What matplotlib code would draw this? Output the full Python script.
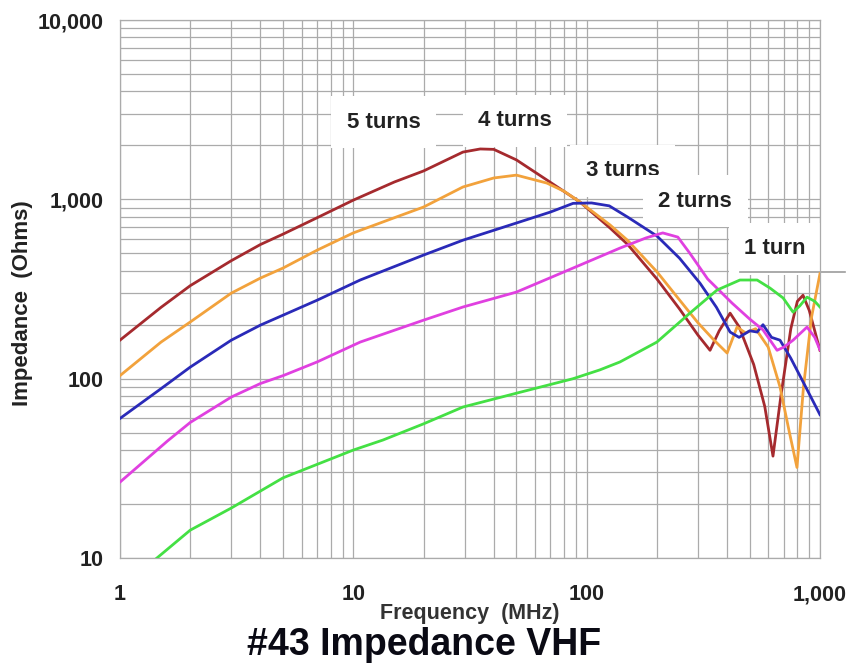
"""#43 ferrite impedance vs frequency (VHF), 1 to 5 turns."""
import matplotlib
matplotlib.use("Agg")
import matplotlib.pyplot as plt
from matplotlib.ticker import FixedLocator, LogLocator, NullFormatter

plt.rcParams["font.family"] = ["Liberation Sans", "DejaVu Sans"]

# frequency (MHz) / impedance (ohms)
f5 = [1, 1.5, 2, 3, 4, 5, 7, 10, 15, 20, 29.5, 35, 40, 50, 67.5, 93.6, 126, 150,
      200, 250, 300, 338, 370, 412, 450, 520, 580, 629, 680, 750, 800, 846, 900, 1000]
z5 = [164, 250, 330, 455, 560, 640, 790, 990, 1250, 1440, 1835, 1910, 1900, 1660,
      1283, 967, 692, 560, 360, 245, 175, 144, 185, 232, 195, 120, 70, 37, 80, 190,
      270, 292, 240, 144]

f4 = [1, 1.5, 2, 3, 4, 5, 7, 10, 15, 20, 29.5, 40, 50, 67.5, 80, 93.6, 126, 150,
      200, 250, 300, 350, 400, 441, 480, 530, 600, 674, 740, 797, 850, 920, 1000]
z4 = [104, 160, 207, 300, 364, 414, 521, 650, 790, 906, 1172, 1316, 1365, 1233,
      1110, 967, 720, 590, 395, 275, 205, 165, 139, 194, 180, 190, 150, 90, 50, 32,
      90, 220, 385]

f3 = [1, 1.5, 2, 3, 4, 5, 7, 10.7, 20, 29.5, 50, 70, 87.5, 105, 125, 150, 200, 250,
      306, 360, 412, 450, 500, 538, 570, 620, 674, 750, 850, 1000]
z3 = [60, 88, 116, 164, 199, 226, 274, 355, 489, 592, 738, 850, 950, 955, 920, 796,
      625, 470, 341, 250, 182, 170, 185, 182, 200, 170, 164, 130, 95, 63]

f2 = [1, 1.6, 2, 3, 4, 5, 7, 10.7, 20, 29.5, 50, 87.5, 139, 180, 212, 246, 277, 330,
      420, 500, 570, 655, 700, 767, 880, 950, 1000]
z2 = [26.5, 45, 57, 79, 94, 104, 124, 160, 212, 251, 304, 414, 535, 610, 650, 616,
      500, 360, 264, 215, 187, 144, 150, 164, 194, 170, 145]

f1 = [1, 1.44, 2, 3, 5, 10, 13.4, 20, 29.5, 50, 87.5, 114, 139, 200, 277, 362, 454,
      538, 611, 695, 767, 820, 880, 950, 1000]
z1 = [6.8, 10, 14.3, 19, 28, 40, 45.5, 56, 69.5, 83, 100, 112, 124, 160, 232, 312,
      355, 355, 320, 282, 235, 255, 285, 270, 251]

x_ticks = [1, 10, 100, 1000]
x_labels = ["1", "10", "100", "1,000"]
y_ticks = [10, 100, 1000, 10000]
y_labels = ["10", "100", "1,000", "10,000"]

series = [
    (f5, z5, "#a52a2e", "5 turns", (13.5, 2700)),
    (f4, z4, "#f2a23c", "4 turns", (49.3, 2735)),
    (f3, z3, "#2a2ab8", "3 turns", (143, 1440)),
    (f2, z2, "#e040e0", "2 turns", (292, 977)),
    (f1, z1, "#44e044", "1 turn", (642, 529)),
]

fig = plt.figure(figsize=(8.49, 6.72), dpi=100)
ax = fig.add_axes([0.1413, 0.1696, 0.8245, 0.8006])
ax.set_xscale("log")
ax.set_yscale("log")
ax.set_xlim(1, 1000)
ax.set_ylim(10, 10000)

ax.xaxis.set_major_locator(FixedLocator(x_ticks))
ax.yaxis.set_major_locator(FixedLocator(y_ticks))
ax.set_xticklabels(x_labels, fontsize=15.5, fontweight="bold", color="#222222")
ax.set_yticklabels(y_labels, fontsize=15.5, fontweight="bold", color="#222222")
ax.xaxis.set_minor_locator(LogLocator(base=10, subs=range(2, 10)))
ax.yaxis.set_minor_locator(LogLocator(base=10, subs=range(2, 10)))
ax.xaxis.set_minor_formatter(NullFormatter())
ax.yaxis.set_minor_formatter(NullFormatter())
ax.tick_params(which="both", length=0)
ax.tick_params(axis="x", pad=19)
ax.tick_params(axis="y", pad=12)
ax.grid(which="both", color="#ababab", linewidth=0.9)
for s in ax.spines.values():
    s.set_color("#ababab")
    s.set_linewidth(0.9)

for f, z, c, name, pos in series:
    ax.plot(f, z, color=c, linewidth=2.0, zorder=3)

for f, z, c, name, pos in series:
    ax.text(pos[0], pos[1], name, fontsize=16, fontweight="bold", color="#222222",
            ha="center", va="center", zorder=2,
            bbox=dict(boxstyle="square,pad=0.7", facecolor="white", edgecolor="none"))

# rule under the "1 turn" label
ax.plot([454, 1280], [393, 393], color="#9c9c9c", linewidth=1.2, clip_on=False, zorder=2)

fig.text(0.5535, 1 - 613 / 672, "Frequency  (MHz)", fontsize=15.5, fontweight="bold",
         color="#333333", ha="center", va="center")
fig.text(0.026, 1 - 303 / 672, "Impedance  (Ohms)", fontsize=16, fontweight="bold",
         color="#222222", ha="center", va="center", rotation=90)
fig.text(0.499, 1 - 645 / 672, "#43 Impedance VHF", fontsize=27, fontweight="bold",
         color="#0a0a14", ha="center", va="center")

fig.savefig("out.png", dpi=100)
